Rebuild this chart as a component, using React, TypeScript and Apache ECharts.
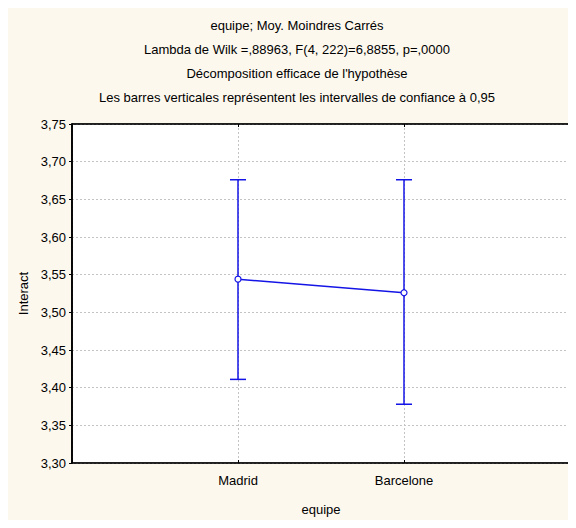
import React, { useEffect, useRef } from "react";
import * as echarts from "echarts";

const titleLines = [
  "equipe; Moy. Moindres Carrés",
  "Lambda de Wilk =,88963, F(4, 222)=6,8855, p=,0000",
  "Décomposition efficace de l'hypothèse",
  "Les barres verticales représentent les intervalles de confiance à 0,95",
];
const categories = ["Madrid", "Barcelone"];
const categoryPos = [1, 2];
const means = [3.544, 3.526];
const lower = [3.411, 3.378];
const upper = [3.676, 3.676];

const BLUE = "#1414e6";
const FONT = "Liberation Sans, Arial, sans-serif";
const FS = 13;

export default function App() {
  const ref = useRef<HTMLDivElement>(null);
  useEffect(() => {
    const chart = echarts.init(ref.current!, null, { renderer: "svg" });
    const lineData = categoryPos.map((x, i) => [x, means[i]]);
    const errData = categoryPos.map((x, i) => [x, lower[i], upper[i]]);
    chart.setOption({
      animation: false,
      backgroundColor: "#fcf8ee",
      textStyle: { fontFamily: FONT },
      graphic: titleLines.map((t, i) => ({
        type: "text",
        x: 297,
        y: 19 + i * 24,
        style: { text: t, font: `${FS}px ${FONT}`, fill: "#000", align: "center", verticalAlign: "top" },
      })),
      grid: {
        left: 72,
        right: 6,
        top: 124,
        bottom: 65,
        show: true,
        backgroundColor: "#ffffff",
        borderColor: "#000",
        borderWidth: 1,
      },
      xAxis: [
        {
          type: "value",
          min: 0,
          max: 3,
          interval: 1,
          name: "equipe",
          nameLocation: "middle",
          nameGap: 40,
          nameTextStyle: { fontSize: FS, color: "#000", fontFamily: FONT },
          axisLine: { show: true, lineStyle: { color: "#000", width: 1.5 } },
          axisTick: { show: true, inside: true, length: 3, lineStyle: { color: "#000" } },
          axisLabel: {
            fontSize: FS,
            color: "#000",
            margin: 11,
            fontFamily: FONT,
            formatter: (v: number) => {
              const idx = categoryPos.indexOf(v);
              return idx >= 0 ? categories[idx] : "";
            },
          },
          splitLine: { show: true, lineStyle: { color: "#c4c4c4", type: [2, 2] } },
        },
        {
          type: "value",
          position: "top",
          min: 0,
          max: 3,
          interval: 1,
          axisLine: { show: true, lineStyle: { color: "#000", width: 1.5 } },
          axisTick: { show: true, inside: true, length: 3, lineStyle: { color: "#000" } },
          axisLabel: { show: false },
          splitLine: { show: false },
        },
      ],
      yAxis: [
        {
          type: "value",
          min: 3.3,
          max: 3.75,
          interval: 0.05,
          name: "Interact",
          nameLocation: "middle",
          nameGap: 40,
          nameTextStyle: { fontSize: FS, color: "#000", fontFamily: FONT },
          axisLine: { show: true, lineStyle: { color: "#000", width: 1.5 } },
          axisTick: { show: true, length: 3, lineStyle: { color: "#000" } },
          axisLabel: {
            fontSize: FS,
            color: "#000",
            margin: 6,
            fontFamily: FONT,
            formatter: (v: number) => v.toFixed(2).replace(".", ","),
          },
          splitLine: { show: true, lineStyle: { color: "#c4c4c4", type: [2, 2] } },
        },
        {
          type: "value",
          position: "right",
          min: 3.3,
          max: 3.75,
          interval: 0.05,
          axisLine: { show: true, lineStyle: { color: "#000", width: 1.5 } },
          axisTick: { show: true, inside: true, length: 3, lineStyle: { color: "#000" } },
          axisLabel: { show: false },
          splitLine: { show: false },
        },
      ],
      series: [
        {
          type: "custom",
          xAxisIndex: 0,
          yAxisIndex: 0,
          data: errData,
          z: 3,
          renderItem: (params: any, api: any) => {
            const x = api.value(0);
            const lo = api.coord([x, api.value(1)]);
            const hi = api.coord([x, api.value(2)]);
            const hw = 8;
            const style = { stroke: BLUE, lineWidth: 1.5 };
            return {
              type: "group",
              children: [
                { type: "line", shape: { x1: lo[0], y1: lo[1], x2: hi[0], y2: hi[1] }, style },
                { type: "line", shape: { x1: lo[0] - hw, y1: lo[1], x2: lo[0] + hw, y2: lo[1] }, style },
                { type: "line", shape: { x1: hi[0] - hw, y1: hi[1], x2: hi[0] + hw, y2: hi[1] }, style },
              ],
            };
          },
        },
        {
          type: "line",
          xAxisIndex: 0,
          yAxisIndex: 0,
          data: lineData,
          z: 4,
          symbol: "circle",
          symbolSize: 6,
          lineStyle: { color: BLUE, width: 1.5 },
          itemStyle: { color: "#ffffff", borderColor: BLUE, borderWidth: 1.2 },
        },
      ],
    });
    return () => chart.dispose();
  }, []);
  return <div ref={ref} style={{ width: 576, height: 528, margin: -8 }} />;
}
